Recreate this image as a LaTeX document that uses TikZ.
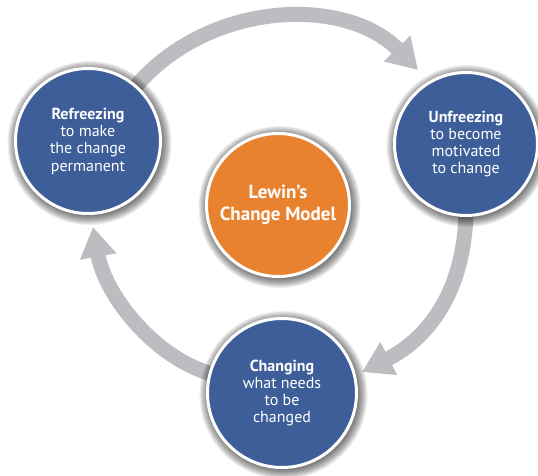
\documentclass[tikz,border=0pt]{standalone}
\usepackage{fontspec}
\setmainfont{PT Sans}
\usetikzlibrary{arrows.meta,calc}
\pgfdeclarelayer{arrowlayer}
\pgfdeclarelayer{shadowlayer}
\pgfsetlayers{arrowlayer,shadowlayer,main}
\definecolor{stageblue}{HTML}{3D5E98}
\definecolor{modelorange}{HTML}{E8822F}
\definecolor{cyclegray}{HTML}{BDBDC1}
\begin{document}
\begin{tikzpicture}[x=1pt,y=-1pt,
  stage/.style={circle, fill=stageblue, draw=white, line width=3pt, text=white,
    align=center, inner sep=0pt, font=\fontsize{16}{17.3}\selectfont},
  model/.style={stage, fill=modelorange, font=\bfseries\fontsize{19}{22}\selectfont},
  cycarrow/.style={draw=cyclegray, line width=15pt,
    -{Triangle[length=30pt,width=35pt]}, shorten <=-8pt}]
\useasboundingbox (0,0) rectangle (538,476);

\node[stage, minimum size=145pt] (refr) at (88,141)
  {\textbf{Refreezing}\\to make\\the change\\permanent};
\node[stage, minimum size=143pt] (unfr) at (466,144)
  {\textbf{Unfreezing}\\to become\\motivated\\to change};
\node[stage, minimum size=149pt] (chg) at (282,393)
  {\textbf{Changing}\\what needs\\to be\\changed};
\node[model, minimum size=143pt] (lew) at (278,205)
  {Lewin's\\Change Model};

\coordinate (tipA) at (418,70);
\coordinate (tipB) at (362,372);
\coordinate (tipC) at (93,227);

\begin{pgfonlayer}{arrowlayer}
  \draw[cycarrow] (refr.49) .. controls (205,0) and (345,-5) .. (tipA);
  \draw[cycarrow] (unfr.-90) .. controls (465,295) and (425,340) .. (tipB);
  \draw[cycarrow] (chg.165) .. controls (155,360) and (105,295) .. (tipC);
\end{pgfonlayer}

\begin{pgfonlayer}{shadowlayer}
  \foreach \nd in {refr,unfr,chg,lew}{
    \foreach \k in {1,...,9}{
      \fill[black, opacity=0.075] let \p1=(\nd.center), \p2=(\nd.east) in
        ($(\nd.center)+(1.5,2)$) circle[radius={\x2-\x1+\k*1.1pt-2pt}];
    }
  }
\end{pgfonlayer}
\end{tikzpicture}
\end{document}
